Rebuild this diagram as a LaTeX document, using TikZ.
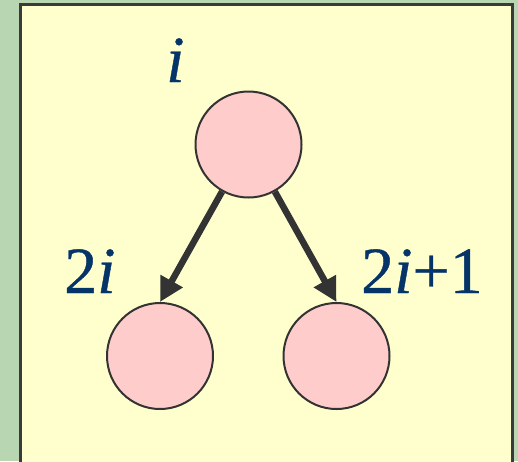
\documentclass[tikz,border=0pt]{standalone}
\usepackage{fontspec}
\setmainfont[FakeBold=0.6]{Liberation Serif}
\usetikzlibrary{arrows.meta}
\definecolor{bggreen}{RGB}{184,214,178}
\definecolor{boxfill}{RGB}{255,255,206}
\definecolor{framegray}{RGB}{58,58,58}
\definecolor{nodefill}{RGB}{255,204,204}
\definecolor{edgegray}{RGB}{51,51,51}
\definecolor{labelblue}{RGB}{4,52,104}
\tikzset{
  treenode/.style={circle, draw=edgegray, line width=2pt, fill=nodefill, minimum size=106pt, inner sep=0pt},
  treeedge/.style={draw=edgegray, line width=6.5pt, -{Triangle[length=24pt,width=24pt]}},
  treelabel/.style={text=labelblue, font=\fontsize{66}{66}\selectfont, inner sep=0pt, anchor=base west}
}
\begin{document}
\begin{tikzpicture}[x=1pt,y=-1pt]
  \fill[bggreen] (0,0) rectangle (518,461);
  \useasboundingbox (0,0) rectangle (518,461);
  \draw[framegray, line width=3pt, fill=boxfill] (20,4) rectangle (512,470);
  \node[treenode] (top) at (248.5,144.5) {};
  \node[treenode] (bl) at (160,356) {};
  \node[treenode] (br) at (336.5,356) {};
  \draw[treeedge] (top) -- (bl.north);
  \draw[treeedge] (top) -- (br.north);
  \node[treelabel] (li) at (166,82) {\textit{i}};
  \node[treelabel] (l2i) at (64,293) {2\textit{i}};
  \node[treelabel] (l2i1) at (361,293) {2\textit{i}+1};
\end{tikzpicture}
\end{document}
